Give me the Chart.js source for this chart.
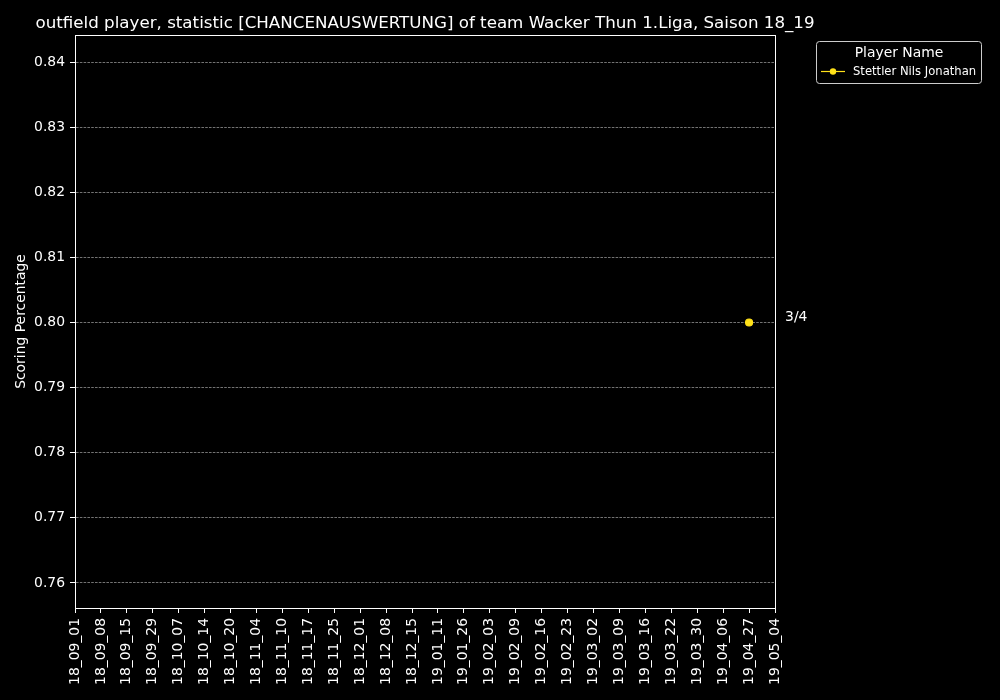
<!DOCTYPE html>
<html>
<head>
<meta charset="utf-8">
<script src="https://cdn.jsdelivr.net/npm/chart.js@4/dist/chart.umd.min.js"></script>
<style>
  html, body { margin: 0; padding: 0; background: #000; }
  #wrap { width: 1000px; height: 700px; position: relative; }
</style>
</head>
<body>
<div id="wrap"><canvas id="c" width="1000" height="700"></canvas></div>
<script>
const titleText = 'outfield player, statistic [CHANCENAUSWERTUNG] of team Wacker Thun 1.Liga, Saison 18_19';
const yAxisTitle = 'Scoring Percentage';
const legendTitle = 'Player Name';
const categories = ['18_09_01','18_09_08','18_09_15','18_09_29','18_10_07','18_10_14','18_10_20','18_11_04','18_11_10','18_11_17','18_11_25','18_12_01','18_12_08','18_12_15','19_01_11','19_01_26','19_02_03','19_02_09','19_02_16','19_02_23','19_03_02','19_03_09','19_03_16','19_03_22','19_03_30','19_04_06','19_04_27','19_05_04'];
const playerName = 'Stettler Nils Jonathan';
const playerValues = [null,null,null,null,null,null,null,null,null,null,null,null,null,null,null,null,null,null,null,null,null,null,null,null,null,null,0.80,null];
const pointLabels = ['','','','','','','','','','','','','','','','','','','','','','','','','','','3/4',''];
const yMin = 0.75615, yMax = 0.84415, yStep = 0.01;

const FONT = 'DejaVu Sans';
const YELLOW = '#ffe119';

const customPlugin = {
  id: 'custom',
  beforeDraw(chart) {
    const ctx = chart.ctx;
    ctx.save();
    ctx.fillStyle = '#000';
    ctx.fillRect(0, 0, chart.width, chart.height);
    ctx.restore();
  },
  afterDraw(chart) {
    const ctx = chart.ctx;
    const a = chart.chartArea;
    const xs = chart.scales.x, ys = chart.scales.y;
    ctx.save();
    // frame
    ctx.setLineDash([]);
    ctx.strokeStyle = '#fff';
    ctx.lineWidth = 1;
    ctx.strokeRect(Math.round(a.left) + 0.5, Math.round(a.top) + 0.5, Math.round(a.right - a.left), Math.round(a.bottom - a.top));
    // title
    ctx.fillStyle = '#fff';
    ctx.font = '16.7px "' + FONT + '"';
    ctx.textAlign = 'center';
    ctx.textBaseline = 'alphabetic';
    ctx.fillText(titleText, (a.left + a.right) / 2, a.top - 7);
    // point labels
    ctx.font = '13.9px "' + FONT + '"';
    ctx.textAlign = 'left';
    ctx.textBaseline = 'middle';
    playerValues.forEach((v, i) => {
      if (v !== null && pointLabels[i]) {
        ctx.fillText(pointLabels[i], xs.getPixelForValue(i) + 36, ys.getPixelForValue(v) - 5);
      }
    });
    // legend
    const lx = 816.5, ly = 41.5, lw = 165, lh = 42, r = 3;
    ctx.beginPath();
    ctx.moveTo(lx + r, ly);
    ctx.arcTo(lx + lw, ly, lx + lw, ly + lh, r);
    ctx.arcTo(lx + lw, ly + lh, lx, ly + lh, r);
    ctx.arcTo(lx, ly + lh, lx, ly, r);
    ctx.arcTo(lx, ly, lx + lw, ly, r);
    ctx.closePath();
    ctx.fillStyle = '#000';
    ctx.fill();
    ctx.strokeStyle = '#cccccc';
    ctx.lineWidth = 1;
    ctx.stroke();
    ctx.fillStyle = '#fff';
    ctx.font = '13.9px "' + FONT + '"';
    ctx.textAlign = 'center';
    ctx.textBaseline = 'middle';
    ctx.fillText(legendTitle, lx + lw / 2, 53);
    ctx.strokeStyle = YELLOW;
    ctx.lineWidth = 1.2;
    ctx.beginPath();
    ctx.moveTo(821, 71.5);
    ctx.lineTo(845, 71.5);
    ctx.stroke();
    ctx.beginPath();
    ctx.arc(833, 71.5, 3.2, 0, Math.PI * 2);
    ctx.fillStyle = YELLOW;
    ctx.fill();
    ctx.fillStyle = '#fff';
    ctx.font = '11.6px "' + FONT + '"';
    ctx.textAlign = 'left';
    ctx.fillText(playerName, 853, 72);
    ctx.restore();
  }
};

new Chart(document.getElementById('c'), {
  type: 'line',
  data: {
    labels: categories,
    datasets: [{
      label: playerName,
      data: playerValues,
      borderColor: YELLOW,
      backgroundColor: YELLOW,
      pointBackgroundColor: YELLOW,
      pointBorderColor: YELLOW,
      pointRadius: 3.5,
      borderWidth: 1.2,
      spanGaps: false
    }]
  },
  options: {
    responsive: false,
    animation: false,
    devicePixelRatio: 1,
    layout: { padding: { left: 0, right: 225, top: 35, bottom: 0 } },
    plugins: {
      legend: { display: false },
      title: { display: false },
      tooltip: { enabled: false }
    },
    scales: {
      x: {
        type: 'category',
        offset: false,
        afterFit(s) { s.height = 92; },
        grid: {
          drawOnChartArea: false,
          drawTicks: true,
          tickLength: 5,
          tickColor: '#fff',
          tickWidth: 1
        },
        border: { display: true, color: '#fff', width: 1 },
        ticks: {
          color: '#fff',
          autoSkip: false,
          minRotation: 90,
          maxRotation: 90,
          padding: 5,
          font: { family: FONT, size: 13.9 }
        }
      },
      y: {
        min: yMin,
        max: yMax,
        afterFit(s) { s.width = 75; },
        grid: {
          drawOnChartArea: true,
          color: 'rgba(115,115,115,1)',
          lineWidth: 1,
          drawTicks: true,
          tickLength: 5,
          tickColor: '#fff',
          tickWidth: 1,
          tickBorderDash: []
        },
        border: { display: true, color: '#fff', width: 1, dash: [2.6, 1.2] },
        ticks: {
          stepSize: yStep,
          includeBounds: false,
          color: '#fff',
          padding: 5,
          font: { family: FONT, size: 13.9 },
          callback: v => Number(v).toFixed(2)
        },
        title: {
          display: true,
          text: yAxisTitle,
          color: '#fff',
          padding: { top: 13, bottom: 0 },
          font: { family: FONT, size: 13.9 }
        }
      }
    }
  },
  plugins: [customPlugin]
});
</script>
</body>
</html>
